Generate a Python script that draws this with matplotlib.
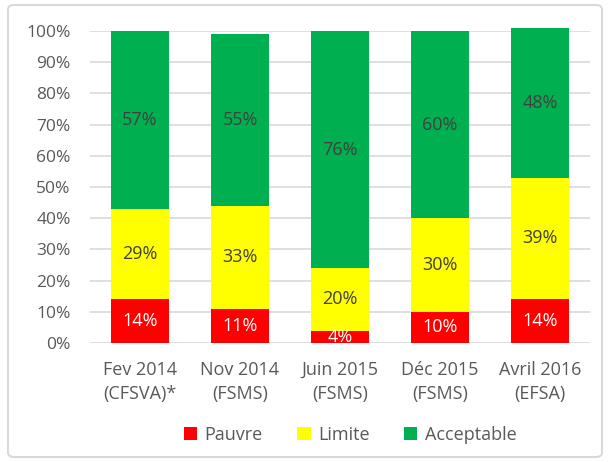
import matplotlib
matplotlib.use("Agg")
import matplotlib.pyplot as plt
from matplotlib.patches import FancyBboxPatch
from matplotlib.ticker import PercentFormatter
import numpy as np

plt.rcParams['font.family'] = ['Open Sans', 'DejaVu Sans']

categories = ["Fev 2014\n(CFSVA)*", "Nov 2014\n(FSMS)", "Juin 2015\n(FSMS)",
              "Déc 2015\n(FSMS)", "Avril 2016\n(EFSA)"]
pauvre = [14, 11, 4, 10, 14]
limite = [29, 33, 20, 30, 39]
acceptable = [57, 55, 76, 60, 48]

series = [("Pauvre", pauvre, "#ff0000", "white"),
          ("Limite", limite, "#ffff00", "#404040"),
          ("Acceptable", acceptable, "#00b050", "#404040")]

fig = plt.figure(figsize=(6.09, 4.62), dpi=100)
ax = fig.add_axes([90 / 609, 1 - 343 / 462, 500 / 609, 312 / 462])

# rounded grey frame round the chart area
frame = FancyBboxPatch((8 / 609, 5 / 462), 594 / 609, 452 / 462,
                       boxstyle="round,pad=0,rounding_size=0.01",
                       transform=fig.transFigure, fill=False,
                       edgecolor="#d9d9d9", linewidth=1.5)
fig.patches.append(frame)

x = np.arange(len(categories))
bottom = np.zeros(len(categories))
for name, vals, col, tcol in series:
    vals = np.array(vals, dtype=float)
    ax.bar(x, vals, 0.58, bottom=bottom, color=col, label=name, zorder=2,
           clip_on=False)
    for xi, b, v in zip(x, bottom, vals):
        ax.text(xi, b + v / 2, f"{int(v)}%", ha="center", va="center",
                color=tcol, fontsize=13, zorder=3, clip_on=True)
    bottom += vals

ax.set_xlim(-0.5, len(categories) - 0.5)
ax.set_ylim(0, 100)
ax.set_yticks(range(0, 101, 10))
ax.yaxis.set_major_formatter(PercentFormatter(decimals=0))
ax.set_xticks(x)
ax.set_xticklabels(categories, linespacing=1.4)
ax.grid(axis="y", color="#d9d9d9", linewidth=1.2, zorder=0)
for s in ax.spines.values():
    s.set_visible(False)
ax.tick_params(length=0, labelcolor="#595959")
ax.tick_params(axis="y", pad=14, labelsize=12.5)
ax.tick_params(axis="x", pad=13, labelsize=13)

leg = ax.legend(loc="center", bbox_to_anchor=(0.52, -0.295), ncol=3, frameon=False,
                fontsize=13, handlelength=0.75, handleheight=0.75,
                handletextpad=0.4, columnspacing=1.9)
for t in leg.get_texts():
    t.set_color("#595959")

fig.savefig("out.png", dpi=100)
